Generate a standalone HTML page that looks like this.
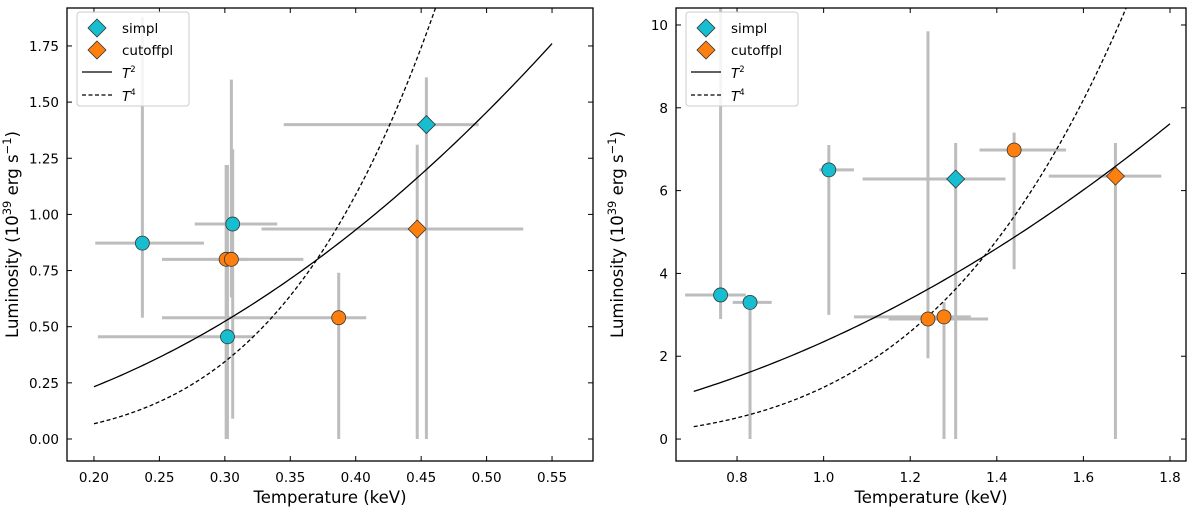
<!DOCTYPE html>
<html><head><meta charset="utf-8"><style>
body{margin:0;background:#fff;}
svg{display:block;font-family:"DejaVu Sans","Liberation Sans",sans-serif;}
</style></head><body>
<svg id="fig" width="1200" height="508" viewBox="0 0 1200 508"></svg>
<script>
// ---- Left panel data ----
const L_simplT=[0.237,0.306,0.302,0.454];
const L_simplL=[0.872,0.957,0.455,1.40];
const L_simplTlo=[0.201,0.277,0.203,0.345];
const L_simplThi=[0.284,0.340,0.322,0.494];
const L_simplLlo=[0.54,0.09,0.0,0.0];
const L_simplLhi=[1.88,1.29,1.22,1.61];
const L_simplShape=['o','o','o','d'];
const L_cutT=[0.301,0.305,0.387,0.447];
const L_cutL=[0.80,0.80,0.54,0.935];
const L_cutTlo=[0.252,0.290,0.252,0.328];
const L_cutThi=[0.360,0.318,0.408,0.528];
const L_cutLlo=[0.0,0.63,0.0,0.0];
const L_cutLhi=[1.22,1.60,0.74,1.31];
const L_cutShape=['o','o','o','d'];
const L_xticks=[0.20,0.25,0.30,0.35,0.40,0.45,0.50,0.55];
const L_yticks=[0.00,0.25,0.50,0.75,1.00,1.25,1.50,1.75];
const L_k2=[5.82], L_k4=[42.5], L_trange=[0.2,0.55];
// ---- Right panel data ----
const R_simplT=[0.762,0.830,1.012,1.305];
const R_simplL=[3.48,3.30,6.50,6.28];
const R_simplTlo=[0.68,0.79,0.99,1.09];
const R_simplThi=[0.82,0.88,1.07,1.42];
const R_simplLlo=[2.9,0.0,3.0,0.0];
const R_simplLhi=[10.6,3.3,7.1,7.15];
const R_simplShape=['o','o','o','d'];
const R_cutT=[1.241,1.278,1.440,1.674];
const R_cutL=[2.90,2.95,6.98,6.35];
const R_cutTlo=[1.15,1.07,1.36,1.52];
const R_cutThi=[1.38,1.34,1.56,1.78];
const R_cutLlo=[1.95,0.0,4.1,0.0];
const R_cutLhi=[9.85,3.3,7.4,7.15];
const R_cutShape=['o','o','o','d'];
const R_xticks=[0.8,1.0,1.2,1.4,1.6,1.8];
const R_yticks=[0,2,4,6,8,10];
const R_k2=[2.35], R_k4=[1.25], R_trange=[0.7,1.8];

const NS='http://www.w3.org/2000/svg';
const svg=document.getElementById('fig');
function mk(tag,attrs,parent){const e=document.createElementNS(NS,tag);for(const k in attrs)e.setAttribute(k,attrs[k]);(parent||svg).appendChild(e);return e;}

function panel(cfg){
  const g=mk('g',{});
  
  
  const {x0,x1,y0,y1,xmin,xmax,ymin,ymax}=cfg;
  const sx=v=>x0+(v-xmin)/(xmax-xmin)*(x1-x0);
  const sy=v=>y1-(v-ymin)/(ymax-ymin)*(y1-y0);
  const clip='clip'+cfg.name;
  const defs=mk('defs',{},g);const cp=mk('clipPath',{id:clip},defs);mk('rect',{x:x0,y:y0,width:x1-x0,height:y1-y0},cp);
  const plot=mk('g',{'clip-path':'url(#'+clip+')'},g);
  function errs(T,Lv,tl,th,ll,lh){
    for(let i=0;i<T.length;i++){
      const h=mk('line',{x1:sx(tl[i]),x2:sx(th[i]),y1:sy(Lv[i]),y2:sy(Lv[i]),stroke:'#bdbdbd','stroke-width':3},plot);
      
      
      const v=mk('line',{x1:sx(T[i]),x2:sx(T[i]),y1:sy(ll[i]),y2:sy(lh[i]),stroke:'#bdbdbd','stroke-width':3},plot);
      
      
    }
  }
  errs(cfg.sT,cfg.sL,cfg.sTlo,cfg.sThi,cfg.sLlo,cfg.sLhi);
  errs(cfg.cT,cfg.cL,cfg.cTlo,cfg.cThi,cfg.cLlo,cfg.cLhi);
  function curve(k,p,dash,name){
    let d='';const n=120;
    for(let i=0;i<=n;i++){const t=cfg.tr[0]+(cfg.tr[1]-cfg.tr[0])*i/n;d+=(i?'L':'M')+sx(t).toFixed(2)+','+sy(k*Math.pow(t,p)).toFixed(2);}
    const e=mk('path',{d:d,fill:'none',stroke:'#000','stroke-width':1.3,'stroke-dasharray':dash},plot);
    
    
  }
  curve(cfg.k2[0],2,'none','t2-curve');
  curve(cfg.k4[0],4,'4,2.5','t4-curve');
  function marker(x,y,shape,color,parent){
    let e;
    if(shape==='d'){e=mk('path',{d:`M${x},${y-9}L${x+9},${y}L${x},${y+9}L${x-9},${y}Z`,fill:color,stroke:'#333','stroke-width':0.8},parent);}
    else e=mk('circle',{cx:x,cy:y,r:7,fill:color,stroke:'#333','stroke-width':0.8},parent);
    return e;
  }
  for(let i=0;i<cfg.sT.length;i++){const m=marker(sx(cfg.sT[i]),sy(cfg.sL[i]),cfg.sShape[i],'#17becf',plot);
    
    }
  for(let i=0;i<cfg.cT.length;i++){const m=marker(sx(cfg.cT[i]),sy(cfg.cL[i]),cfg.cShape[i],'#ff7f0e',plot);
    
    }
  const fr=mk('rect',{x:x0,y:y0,width:x1-x0,height:y1-y0,fill:'none',stroke:'#000','stroke-width':1.3},g);
  
  
  cfg.xt.forEach(v=>{const X=sx(v);
    mk('line',{x1:X,x2:X,y1:y1,y2:y1-5,stroke:'#000','stroke-width':1},g);
    mk('line',{x1:X,x2:X,y1:y0,y2:y0+5,stroke:'#000','stroke-width':1},g);
    const t=mk('text',{x:X,y:y1+21,'text-anchor':'middle','font-size':13.5},g);t.textContent=v.toFixed(cfg.xd);
    
    });
  cfg.yt.forEach(v=>{const Y=sy(v);
    mk('line',{x1:x0,x2:x0+5,y1:Y,y2:Y,stroke:'#000','stroke-width':1},g);
    mk('line',{x1:x1,x2:x1-5,y1:Y,y2:Y,stroke:'#000','stroke-width':1},g);
    const t=mk('text',{x:x0-8,y:Y+5,'text-anchor':'end','font-size':13.5},g);t.textContent=v.toFixed(cfg.yd);
    
    });
  const xl=mk('text',{x:(x0+x1)/2,y:y1+42,'text-anchor':'middle','font-size':16.5},g);xl.textContent='Temperature (keV)';
  
  
  const yl=mk('text',{x:0,y:0,'text-anchor':'middle','font-size':16.5,transform:`translate(${cfg.ylx},${(y0+y1)/2}) rotate(-90)`},g);
  yl.innerHTML='Luminosity (10<tspan dy="-7" font-size="11.5">39</tspan><tspan dy="7"> erg s</tspan><tspan dy="-7" font-size="11.5">−1</tspan><tspan dy="7">)</tspan>';
  
  
  const lg=mk('g',{},g);
  
  
  const lx=x0+10,ly=y0+4;
  mk('rect',{x:lx,y:ly,width:112,height:94,rx:3,fill:'#fff','fill-opacity':0.85,stroke:'#ccc','stroke-width':1},lg);
  marker(lx+20,ly+16,'d','#17becf',lg);
  marker(lx+20,ly+38,'d','#ff7f0e',lg);
  mk('line',{x1:lx+5,x2:lx+35,y1:ly+60,y2:ly+60,stroke:'#000','stroke-width':1.3},lg);
  mk('line',{x1:lx+5,x2:lx+35,y1:ly+83,y2:ly+83,stroke:'#000','stroke-width':1.3,'stroke-dasharray':'4,2.5'},lg);
  const labs=[['simpl',21],['cutoffpl',43]];
  labs.forEach(a=>{const t=mk('text',{x:lx+45,y:ly+a[1],'font-size':13.5},lg);t.textContent=a[0];
    
    });
  [['2',66],['4',89]].forEach(a=>{const t=mk('text',{x:lx+45,y:ly+a[1],'font-size':13.5,'font-style':'italic'},lg);
    t.innerHTML='T<tspan dy="-6" font-size="8.5" font-style="normal">'+a[0]+'</tspan>';
    
    });
}
panel({name:'left-panel',x0:67,x1:593,y0:8,y1:461,xmin:0.1794,xmax:0.5813,ymin:-0.098,ymax:1.919,
  sT:L_simplT,sL:L_simplL,sTlo:L_simplTlo,sThi:L_simplThi,sLlo:L_simplLlo,sLhi:L_simplLhi,sShape:L_simplShape,
  cT:L_cutT,cL:L_cutL,cTlo:L_cutTlo,cThi:L_cutThi,cLlo:L_cutLlo,cLhi:L_cutLhi,cShape:L_cutShape,
  xt:L_xticks,yt:L_yticks,xd:2,yd:2,k2:L_k2,k4:L_k4,tr:L_trange,ylx:18});
panel({name:'right-panel',x0:676,x1:1186,y0:8,y1:461,xmin:0.659,xmax:1.837,ymin:-0.53,ymax:10.41,
  sT:R_simplT,sL:R_simplL,sTlo:R_simplTlo,sThi:R_simplThi,sLlo:R_simplLlo,sLhi:R_simplLhi,sShape:R_simplShape,
  cT:R_cutT,cL:R_cutL,cTlo:R_cutTlo,cThi:R_cutThi,cLlo:R_cutLlo,cLhi:R_cutLhi,cShape:R_cutShape,
  xt:R_xticks,yt:R_yticks,xd:1,yd:0,k2:R_k2,k4:R_k4,tr:R_trange,ylx:623});
</script>
</body></html>
